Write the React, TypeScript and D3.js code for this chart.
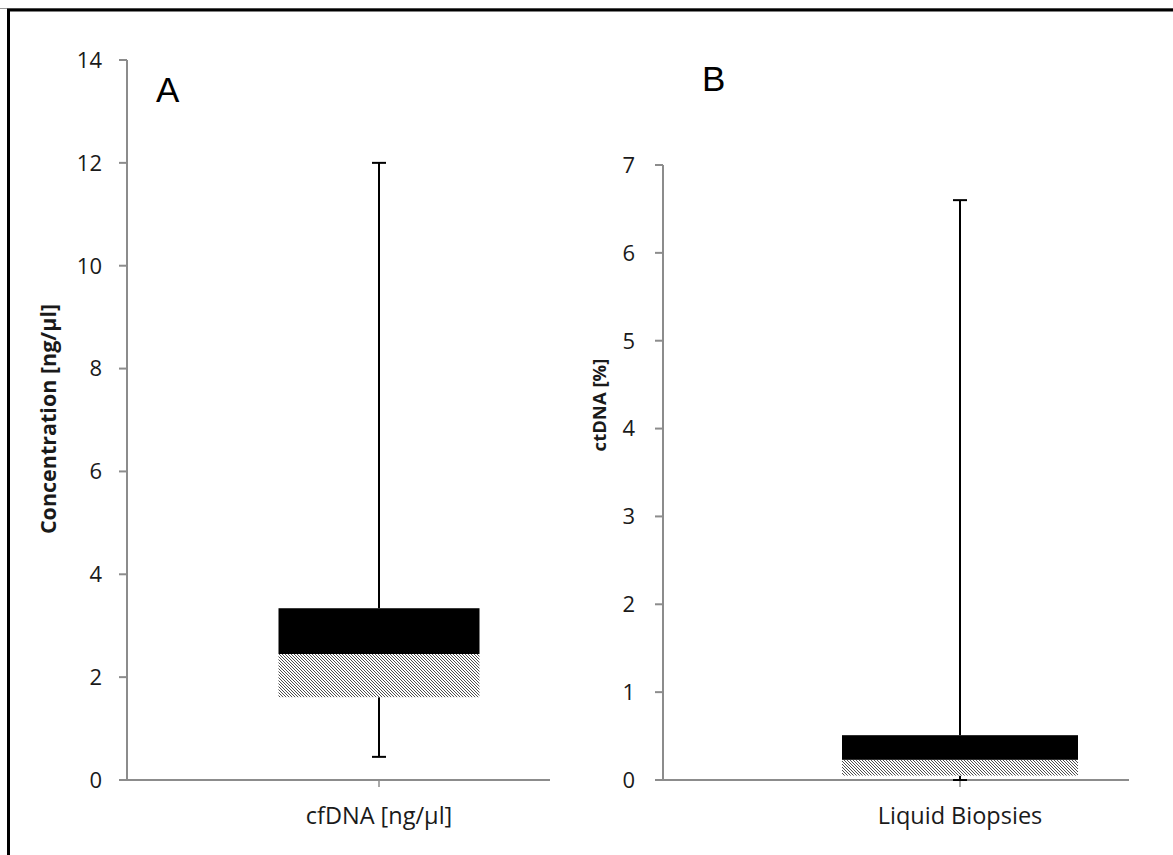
import React from "react";
import * as d3 from "d3";

// Panel A: cfDNA concentration
const catA = ["cfDNA [ng/µl]"];
const ticksA = [0, 2, 4, 6, 8, 10, 12, 14];
const boxA = { min: 0.45, q1: 1.61, median: 2.45, q3: 3.34, max: 12 };

// Panel B: ctDNA percentage
const catB = ["Liquid Biopsies"];
const ticksB = [0, 1, 2, 3, 4, 5, 6, 7];
const boxB = { min: 0, q1: 0.05, median: 0.23, q3: 0.51, max: 6.6 };

const FONT = "'Open Sans', 'Noto Sans', sans-serif";

type Box = { min: number; q1: number; median: number; q3: number; max: number };

function Panel(props: {
  x0: number; axisEnd: number; bandEnd: number; y0: number; y1: number; domainMax: number;
  ticks: number[]; cats: string[]; box: Box; boxW: number; title: string; titleSize: number;
  titleX: number; titleY: number; letter: string; letterX: number; letterY: number; tickOff: number;
}) {
  const { x0, axisEnd, bandEnd, y0, y1, domainMax, ticks, cats, box, boxW, title, titleSize, titleX, titleY, letter, letterX, letterY, tickOff } = props;
  const y = d3.scaleLinear().domain([0, domainMax]).range([y0, y1]);
  const x = d3.scaleBand().domain(cats).range([x0, bandEnd]);
  const cx = (x(cats[0]) as number) + x.bandwidth() / 2;
  const axisC = "#8c8c8c";
  return (
    <g>
      <line x1={x0} x2={x0} y1={y(0)} y2={y(domainMax)} stroke={axisC} strokeWidth={2} />
      {ticks.map((t) => (
        <g key={t}>
          <line x1={x0 - 8} x2={x0} y1={y(t)} y2={y(t)} stroke={axisC} strokeWidth={2} />
          <text x={x0 - tickOff} y={y(t)} dy="0.36em" textAnchor="end" fontFamily={FONT} fontSize={22} fill="#1a1a1a">{t}</text>
        </g>
      ))}
      <line x1={x0} x2={axisEnd} y1={y(0)} y2={y(0)} stroke={axisC} strokeWidth={2} />
      <line x1={cx} x2={cx} y1={y(0)} y2={y(0) + 7} stroke={axisC} strokeWidth={1.5} />
      {cats.map((c) => (
        <text key={c} x={cx} y={y(0) + 44} textAnchor="middle" fontFamily={FONT} fontSize={23.5} fill="#1a1a1a">{c}</text>
      ))}
      <line x1={cx} x2={cx} y1={y(box.max)} y2={y(box.q3)} stroke="#000" strokeWidth={2} />
      <line x1={cx - 7} x2={cx + 7} y1={y(box.max)} y2={y(box.max)} stroke="#000" strokeWidth={2} />
      <line x1={cx} x2={cx} y1={y(box.q1)} y2={y(box.min)} stroke="#000" strokeWidth={2} />
      <line x1={cx - 7} x2={cx + 7} y1={y(box.min)} y2={y(box.min)} stroke="#000" strokeWidth={2} />
      <rect x={cx - boxW / 2} width={boxW} y={y(box.median)} height={y(box.q1) - y(box.median)} fill="url(#hatch)" />
      <rect x={cx - boxW / 2} width={boxW} y={y(box.q3)} height={y(box.median) - y(box.q3)} fill="#000" />
      <text transform={`translate(${titleX},${titleY}) rotate(-90)`} textAnchor="middle" fontFamily={FONT} fontWeight="bold" fontSize={titleSize} fill="#1a1a1a">{title}</text>
      <text x={letterX} y={letterY} fontFamily="'Liberation Sans', Arial, sans-serif" fontSize={35} fill="#000">{letter}</text>
    </g>
  );
}

export default function App() {
  return (
    <svg width={1173} height={855} style={{ position: "absolute", left: 0, top: 0, background: "#fff" }}>
      <defs>
        <pattern id="hatch" patternUnits="userSpaceOnUse" width={3} height={3}>
          <rect width={3} height={3} fill="#fff" />
          <path d="M-1,-1 L4,4 M-1,2 L1,4 M2,-1 L4,1" stroke="#222" strokeWidth={0.8} />
        </pattern>
      </defs>
      <rect x={0} y={0} width={1173} height={855} fill="#fff" />
      <line x1={0} x2={1173} y1={8.5} y2={8.5} stroke="#999" strokeWidth={1} />
      <rect x={8.5} y={10} width={1300} height={1000} fill="none" stroke="#000" strokeWidth={3} />
      <Panel x0={127} axisEnd={550} bandEnd={631} y0={780} y1={60} domainMax={14} ticks={ticksA} cats={catA} box={boxA} boxW={201}
        title="Concentration [ng/µl]" titleSize={21.5} titleX={56} titleY={419} letter="A" letterX={156} letterY={102} tickOff={25} />
      <Panel x0={663} axisEnd={1129} bandEnd={1257} y0={780} y1={165} domainMax={7} ticks={ticksB} cats={catB} box={boxB} boxW={236}
        title="ctDNA [%]" titleSize={18.5} titleX={606} titleY={405} letter="B" letterX={702} letterY={91} tickOff={28} />
    </svg>
  );
}
